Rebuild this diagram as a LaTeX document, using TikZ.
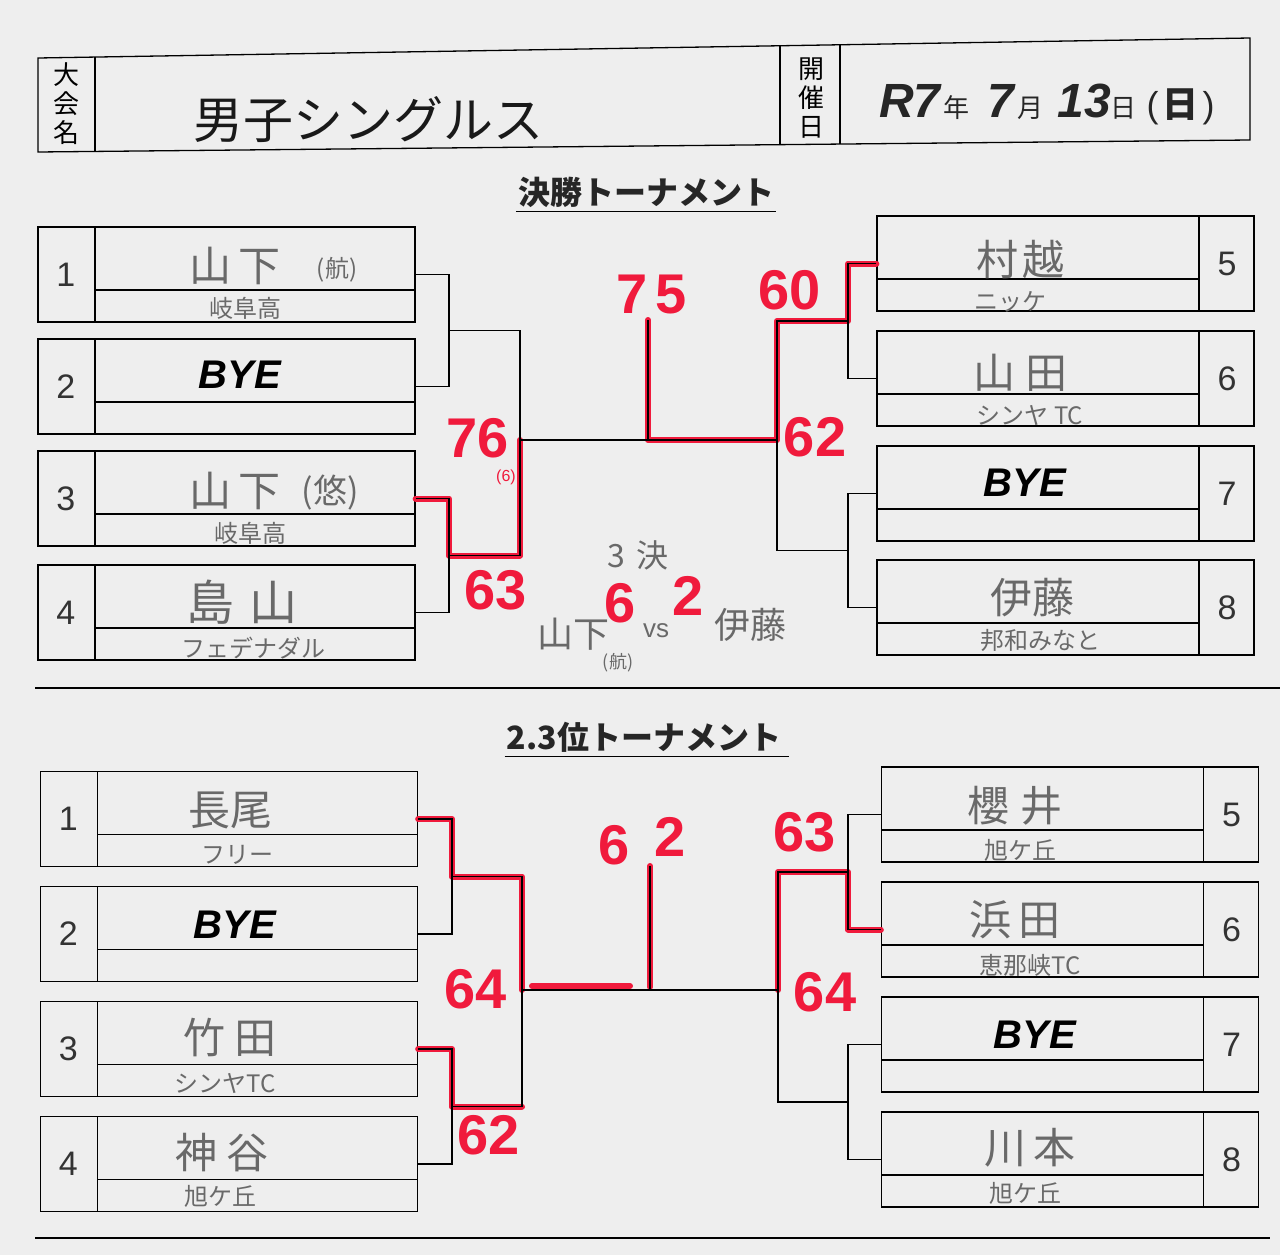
\documentclass[tikz,border=0pt]{standalone}
\usepackage{fontspec}
\setmainfont{Noto Sans CJK JP}
\newfontfamily\lat{Liberation Sans}
\usetikzlibrary{calc}

\definecolor{paper}{RGB}{238,238,238}
\definecolor{pencil}{RGB}{105,105,105}
\definecolor{marker}{RGB}{240,26,60}

\tikzset{
  entryL/.style={draw, line width=1.3pt, minimum width=377pt, minimum height=95pt, inner sep=0pt,
    path picture={
      \draw[line width=1.3pt] ([xshift=57pt]path picture bounding box.north west) -- ([xshift=57pt]path picture bounding box.south west);
      \draw[line width=1.3pt] ([xshift=57pt,yshift=-63pt]path picture bounding box.north west) -- ([yshift=-63pt]path picture bounding box.north east);
    }},
  entryR/.style={draw, line width=1.3pt, minimum width=377pt, minimum height=95pt, inner sep=0pt,
    path picture={
      \draw[line width=1.3pt] ([xshift=-55pt]path picture bounding box.north east) -- ([xshift=-55pt]path picture bounding box.south east);
      \draw[line width=1.3pt] ([yshift=-63pt]path picture bounding box.north west) -- ([xshift=-55pt,yshift=-63pt]path picture bounding box.north east);
    }},
  bracket/.style={line width=1.3pt},
  win/.style={draw=marker, line width=6pt, line cap=round, line join=round},
  seedno/.style={font=\fontsize{34}{34}\selectfont\lat, text=black!80},
  player/.style={font=\fontsize{42}{42}\selectfont, text=pencil},
  clubtxt/.style={font=\fontsize{24}{24}\selectfont, text=pencil},
  byetxt/.style={font=\fontsize{40}{40}\selectfont\lat\bfseries\itshape},
  score/.style={font=\fontsize{56}{56}\selectfont\lat\bfseries, text=marker},
  headtxt/.style={font=\fontsize{32}{32}\selectfont\bfseries, text=black!85, inner sep=2pt},
}

\begin{document}
\begin{tikzpicture}[x=1pt,y=-1pt]
\useasboundingbox (0,0) rectangle (1280,1255);
\fill[paper] (0,0) rectangle (1280,1255);

% header
\draw[line width=1.3pt] (38,58) -- (1250,38) -- (1250,140) -- (38,152) -- cycle;
\draw[line width=1.3pt] (95,57) -- (95,151);
\draw[line width=1.3pt] (780,46) -- (780,145);
\draw[line width=1.3pt] (840,45) -- (840,144);
\node[font=\fontsize{26}{29}\selectfont, align=center] (hd1) at (66,104) {大\\会\\名};
\node[font=\fontsize{26}{29}\selectfont, align=center] (hd2) at (811,98) {開\\催\\日};
\node[font=\fontsize{50}{50}\selectfont, text=black!90] (title) at (368,120) {男子シングルス};
\node[text=black!85] (date) at (1047,104) {{\fontsize{48}{48}\selectfont\lat\bfseries\itshape R7}\hspace{3pt}{\fontsize{26}{26}\selectfont 年}\hspace{18pt}{\fontsize{48}{48}\selectfont\lat\bfseries\itshape 7}\hspace{3pt}{\fontsize{26}{26}\selectfont 月}\hspace{14pt}{\fontsize{48}{48}\selectfont\lat\bfseries\itshape 13}{\fontsize{26}{26}\selectfont 日}{\fontsize{36}{36}\selectfont\lat\ (\hspace{4pt}}{\fontsize{36}{36}\selectfont\bfseries 日}{\fontsize{36}{36}\selectfont\lat\hspace{4pt})}};

% final tournament
\node[headtxt] (final) at (646,192) {決勝トーナメント};
\draw[line width=1.3pt] ([yshift=-2pt]final.south west) -- ([yshift=-2pt]final.south east);

\node[entryL] (t1) at (226.5,274.5) {};
\node[entryL] (t2) at (226.5,386.5) {};
\node[entryL] (t3) at (226.5,498.5) {};
\node[entryL] (t4) at (226.5,612.5) {};
\node[entryR] (r5) at (1065.5,263.5) {};
\node[entryR] (r6) at (1065.5,378.5) {};
\node[entryR] (r7) at (1065.5,493.5) {};
\node[entryR] (r8) at (1065.5,607.5) {};

\coordinate (jA) at (449,330.5);
\coordinate (jB) at (449,555.5);
\coordinate (sA) at (520,440);
\coordinate (sB) at (777,440);
\coordinate (jC) at (848,321);
\coordinate (jD) at (848,550.5);
\coordinate (cA) at (648,440);
\coordinate (tA) at (648,320);

\draw[win] (t3.east) -| (jB) -| (sA);
\draw[win] (r5.west) -| (jC) -| (sB) -- (cA) -- (tA);

\draw[bracket] (t1.east) -| (jA) |- (t2.east);
\draw[bracket] (t3.east) -| (jB) |- (t4.east);
\draw[bracket] (jA) -| (sA) |- (jB);
\draw[bracket] (r5.west) -| (jC) |- (r6.west);
\draw[bracket] (r7.west) -| (jD) |- (r8.west);
\draw[bracket] (jC) -| (sB) |- (jD);
\draw[bracket] (sA) -- (sB);
\draw[bracket] (cA) -- (tA);

\node[seedno] (k1) at ([xshift=28.5pt]t1.west) {1};
\node[seedno] (k2) at ([xshift=28.5pt]t2.west) {2};
\node[seedno] (k3) at ([xshift=28.5pt]t3.west) {3};
\node[seedno] (k4) at ([xshift=28.5pt]t4.west) {4};
\node[seedno] (k5) at ([xshift=-27.5pt]r5.east) {5};
\node[seedno] (k6) at ([xshift=-27.5pt]r6.east) {6};
\node[seedno] (k7) at ([xshift=-27.5pt]r7.east) {7};
\node[seedno] (k8) at ([xshift=-27.5pt]r8.east) {8};

\node[player] (n1) at (235,266) {山\hspace{8pt}下};
\node[clubtxt] (n1x) at (337,270) {(航)};
\node[clubtxt] (c1) at (245,308) {岐阜高};
\node[byetxt] (y2) at (240,375) {BYE};
\node[player] (n3) at (235,491) {山\hspace{8pt}下};
\node[player, font=\fontsize{34}{34}\selectfont] (n3x) at (330,493) {(悠)};
\node[clubtxt] (c3) at (250,533) {岐阜高};
\node[player, font=\fontsize{48}{48}\selectfont] (n4) at (242,602) {島\hspace{16pt}山};
\node[clubtxt] (c4) at (253,648) {フェデナダル};
\node[player] (n5) at (1020,260) {村\hspace{4pt}越};
\node[clubtxt] (c5) at (1010,302) {ニッケ};
\node[player] (n6) at (1020,373) {山\hspace{10pt}田};
\node[clubtxt] (c6) at (1030,415) {シンヤ TC};
\node[byetxt] (y7) at (1025,483) {BYE};
\node[player] (n8) at (1032,598) {伊藤};
\node[clubtxt] (c8) at (1040,640) {邦和みなと};

\node[score] (p76) at (478,438) {76};
\node[font=\fontsize{16}{16}\selectfont\lat, text=marker] (p76x) at (506,477) {(6)};
\node[score] (p63) at (496,590) {63};
\node[score] (p75) at (652,295) {7\hspace{8pt}5};
\node[score] (p60) at (790,290) {60};
\node[score] (p62) at (815,437) {62};

% third place match
\node[font=\fontsize{32}{32}\selectfont, text=pencil] (m3) at (638,555) {3\hspace{12pt}決};
\node[score] (m6) at (620,603) {6};
\node[score] (m2) at (688,596) {2};
\node[player, font=\fontsize{36}{36}\selectfont] (ma) at (573,634) {山下};
\node[clubtxt, font=\fontsize{18}{18}\selectfont] (max) at (618,663) {(航)};
\node[player, font=\fontsize{26}{26}\selectfont\lat] (mvs) at (656,631) {vs};
\node[player, font=\fontsize{36}{36}\selectfont] (mb) at (750,625) {伊藤};

\draw[line width=1.3pt] (35,688) -- (1280,688);

% 2nd/3rd place tournament
\node[headtxt] (second) at (644,737) {2.3位トーナメント};
\draw[line width=1.3pt] ([yshift=-2pt]second.south west) -- ([yshift=-2pt,xshift=6pt]second.south east);

\node[entryL] (b1) at (229,819) {};
\node[entryL] (b2) at (229,934) {};
\node[entryL] (b3) at (229,1049) {};
\node[entryL] (b4) at (229,1164) {};
\node[entryR] (q5) at (1070,814.5) {};
\node[entryR] (q6) at (1070,929.5) {};
\node[entryR] (q7) at (1070,1044.5) {};
\node[entryR] (q8) at (1070,1159.5) {};

\coordinate (jE) at (452,876.5);
\coordinate (jF) at (452,1106.5);
\coordinate (sC) at (522,990);
\coordinate (sD) at (778,990);
\coordinate (jG) at (848,872);
\coordinate (jH) at (848,1102);
\coordinate (cB) at (650,990);
\coordinate (tB) at (650,866);

\draw[win] (b1.east) -| (jE) -| (sC);
\draw[win] (b3.east) -| (jF) -- (jF -| sC);
\draw[win] ([xshift=10pt,yshift=4pt]sC) -- ([xshift=-20pt,yshift=4pt]cB);
\draw[win] ([yshift=3pt]cB) -- (tB);
\draw[win] (q6.west) -| (jG) -| (sD);

\draw[bracket] (b1.east) -| (jE) |- (b2.east);
\draw[bracket] (b3.east) -| (jF) |- (b4.east);
\draw[bracket] (jE) -| (sC) |- (jF);
\draw[bracket] (q5.west) -| (jG) |- (q6.west);
\draw[bracket] (q7.west) -| (jH) |- (q8.west);
\draw[bracket] (jG) -| (sD) |- (jH);
\draw[bracket] (sC) -- (sD);
\draw[bracket] (cB) -- (tB);

\node[seedno] (l1) at ([xshift=28.5pt]b1.west) {1};
\node[seedno] (l2) at ([xshift=28.5pt]b2.west) {2};
\node[seedno] (l3) at ([xshift=28.5pt]b3.west) {3};
\node[seedno] (l4) at ([xshift=28.5pt]b4.west) {4};
\node[seedno] (l5) at ([xshift=-27.5pt]q5.east) {5};
\node[seedno] (l6) at ([xshift=-27.5pt]q6.east) {6};
\node[seedno] (l7) at ([xshift=-27.5pt]q7.east) {7};
\node[seedno] (l8) at ([xshift=-27.5pt]q8.east) {8};

\node[player] (o1) at (230,810) {長尾};
\node[clubtxt] (d1) at (237,855) {フリー};
\node[byetxt] (z2) at (235,925) {BYE};
\node[player] (o3) at (230,1038) {竹\hspace{10pt}田};
\node[clubtxt] (d3) at (225,1083) {シンヤTC};
\node[player] (o4) at (222,1153) {神\hspace{10pt}谷};
\node[clubtxt] (d4) at (220,1196) {旭ケ丘};
\node[player] (o5) at (1015,806) {櫻\hspace{12pt}井};
\node[clubtxt] (d5) at (1020,850) {旭ケ丘};
\node[player] (o6) at (1015,920) {浜\hspace{8pt}田};
\node[clubtxt] (d6) at (1030,965) {恵那峡TC};
\node[byetxt] (z7) at (1035,1035) {BYE};
\node[player] (o8) at (1030,1148) {川\hspace{8pt}本};
\node[clubtxt] (d8) at (1025,1193) {旭ケ丘};

\node[score] (s64) at (476,989) {64};
\node[score] (s62) at (489,1135) {62};
\node[score] (s6) at (614,845) {6};
\node[score] (s2) at (670,837) {2};
\node[score] (s63) at (805,832) {63};
\node[score] (s64r) at (825,992) {64};

\draw[line width=1.3pt] (35,1238) -- (1270,1238);
\end{tikzpicture}
\end{document}
